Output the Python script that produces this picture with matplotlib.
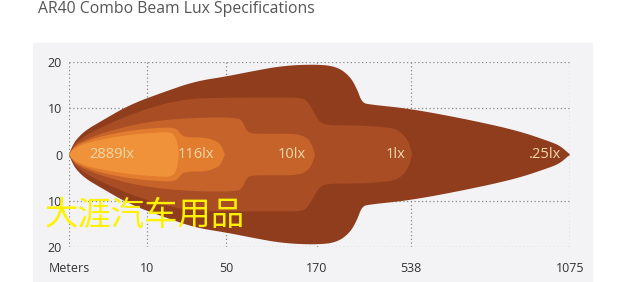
import numpy as np
import matplotlib.pyplot as plt
from matplotlib.patches import Rectangle

title = "AR40 Combo Beam Lux Specifications"
watermark = "大涯汽车用品"

# distance axis is not linear: ticks sit at these fractions of the width
x_ticks = [0, 10, 50, 170, 538, 1075]
x_labels = ["Meters", "10", "50", "170", "538", "1075"]
x_frac = [0, 0.156, 0.313, 0.495, 0.683, 1.0]
y_ticks = [-20, -10, 0, 10, 20]
y_labels = ["20", "10", "0", "10", "20"]

# beam outlines: distance (m) and half width (m), outer to inner
lux_names = [".25lx", "1lx", "10lx", "116lx", "2889lx"]
lux_label_x = [990, 475, 137, 35, 5.5]
lux_colors = ["#903d1d", "#a84d24", "#c6632a", "#e27c2e", "#f0923a"]

d_025 = [0, 0.4, 0.9, 2.1, 4.0, 7.8, 19.1, 34.3, 51.3, 81.7, 125, 170, 248, 299,
         327, 346, 377, 534, 727, 896, 1007, 1041, 1075]
w_025 = [0, 1.7, 3.2, 5.2, 7.1, 10.8, 13.6, 15.8, 16.9, 17.9, 19.2, 19.5, 19.0, 16.9,
         14.1, 11.2, 10.8, 9.9, 7.6, 5.2, 2.8, 1.9, 0]

d_1 = [0, 0.4, 0.9, 2.1, 4.0, 7.8, 16.6, 31.8, 55.3, 121.2, 147.6, 156.8, 166.0,
       181.7, 212.9, 338.3, 463.6, 495.0, 526.4, 541.4]
w_1 = [0, 1.3, 2.6, 4.1, 5.8, 8.6, 10.8, 12.1, 12.3, 12.3, 12.3, 11.7, 9.1,
       6.9, 6.3, 6.3, 5.8, 5.0, 3.1, 0]

d_10 = [0, 0.4, 0.9, 2.1, 4.0, 7.8, 16.6, 36.8, 65.8, 72.4, 77.6, 84.3, 108, 141,
        154.2, 162.1, 167.4]
w_10 = [0, 1.1, 2.2, 3.2, 4.5, 6.3, 7.4, 8.0, 8.0, 7.1, 5.0, 4.5, 4.5, 4.5,
        3.9, 2.7, 0]

d_116 = [0, 0.4, 0.9, 2.1, 4.0, 7.8, 16.6, 24.7, 27.2, 29.7, 39.4, 44.5, 47.5, 49.5]
w_116 = [0, 1.1, 1.9, 2.8, 3.9, 5.2, 5.8, 5.8, 4.3, 3.7, 3.7, 3.0, 2.2, 0]

d_2889 = [0, 0.4, 0.9, 2.1, 4.0, 7.8, 16.6, 22.7, 25.2, 26.2]
w_2889 = [0, 0.9, 1.5, 2.4, 3.2, 4.3, 4.8, 4.8, 3.2, 0]

beams = [(d_025, w_025), (d_1, w_1), (d_10, w_10), (d_116, w_116), (d_2889, w_2889)]


def fwd(x):
    return np.interp(x, x_ticks, x_frac)


def inv(f):
    return np.interp(f, x_frac, x_ticks)


def smooth(d, w, n=3):
    # corner cutting done on the drawn (axis) scale, then mapped back to metres
    p = np.column_stack([fwd(np.asarray(d, float)) * 501, np.asarray(w, float) * 4.6])
    for _ in range(n):
        q = [p[0]]
        for a, b in zip(p[:-1], p[1:]):
            q += [0.75 * a + 0.25 * b, 0.25 * a + 0.75 * b]
        q.append(p[-1])
        p = np.array(q)
    return inv(p[:, 0] / 501), p[:, 1] / 4.6


fig = plt.figure(figsize=(6.2, 2.82), dpi=100)
fig.patches.append(Rectangle((33 / 620, 0), 559 / 620, 239 / 282,
                             transform=fig.transFigure, color="#f3f3f5", zorder=-10))
fig.text(38 / 620, 1 - 9 / 282, title, fontsize=11.3, color="#555555",
         family="Open Sans", va="center")

ax = fig.add_axes([69 / 620, 35 / 282, 501 / 620, 185 / 282])
ax.set_zorder(1)
ax.set_facecolor("none")
ax.set_xscale("function", functions=(fwd, inv))
ax.set_xlim(0, 1075)
ax.set_ylim(-20, 20)

for (d, w), c in zip(beams, lux_colors):
    xs, ws = smooth(d, w)
    ax.fill(np.r_[xs, xs[::-1]], np.r_[ws, -ws[::-1]], color=c, lw=0, zorder=2)

for name, x in zip(lux_names, lux_label_x):
    ax.text(x, 0, name, ha="center", va="center", color="#f6d9aa",
            fontsize=10.5, family="Open Sans", zorder=3)

ax.set_xticks(x_ticks, x_labels)
ax.set_yticks(y_ticks, y_labels)
ax.minorticks_off()
ax.grid(True, ls=(0, (1, 2)), color="#8a8a8a", lw=0.9)
ax.set_axisbelow(True)
for s in ax.spines.values():
    s.set_visible(False)
ax.tick_params(length=0, labelsize=9, labelcolor="#333333")
ax.tick_params(axis="x", pad=11)
ax.tick_params(axis="y", pad=5)
for lab in ax.get_xticklabels() + ax.get_yticklabels():
    lab.set_family("Open Sans")

t = fig.text(45 / 620, 1 - 215 / 282, watermark, fontsize=24, color="#fff200",
             family="Noto Sans CJK SC", fontweight="light", va="center")
t.set_zorder(5)

fig.savefig("out.png", dpi=100)
